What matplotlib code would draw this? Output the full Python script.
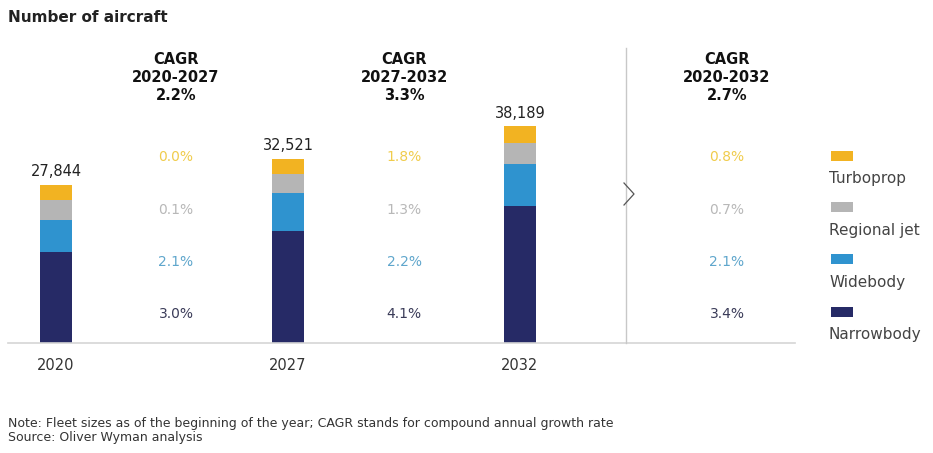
import matplotlib
matplotlib.use("Agg")
import matplotlib.pyplot as plt
from matplotlib.patches import Rectangle
from matplotlib.lines import Line2D

plt.rcParams['font.family'] = ['DejaVu Sans']

# ---------------- data ----------------
years = ["2020", "2027", "2032"]
series = ["Narrowbody", "Widebody", "Regional jet", "Turboprop"]
narrowbody = [15990, 19740, 24130]
widebody = [5760, 6660, 7430]
regional_jet = [3430, 3455, 3690]
turboprop = [2664, 2666, 2939]

cagr_periods = ["2020-2027", "2027-2032", "2020-2032"]
cagr_total = ["2.2%", "3.3%", "2.7%"]
cagr_turboprop = ["0.0%", "1.8%", "0.8%"]
cagr_regional = ["0.1%", "1.3%", "0.7%"]
cagr_widebody = ["2.1%", "2.2%", "2.1%"]
cagr_narrowbody = ["3.0%", "4.1%", "3.4%"]

colors = {"Narrowbody": "#262a66", "Widebody": "#2f93cf",
          "Regional jet": "#b5b5b5", "Turboprop": "#f2b322"}
text_colors = {"Narrowbody": "#3a3b58", "Widebody": "#5fa6cc",
               "Regional jet": "#b8b8b8", "Turboprop": "#f0cc4c"}

W, H = 933, 453
fig = plt.figure(figsize=(W / 100, H / 100), dpi=100)


def fx(px):
    return px / W


def fy(py):
    return 1 - py / H


ax = fig.add_axes([fx(8), fy(343), fx(626) - fx(8), fy(48) - fy(343)])
ax.set_ylim(0, 52000)
ax.set_xlim(-0.207, 2.457)
ax.axis("off")

xs = list(range(len(years)))
bw = 0.134
bottom = [0, 0, 0]
values = {"Narrowbody": narrowbody, "Widebody": widebody,
          "Regional jet": regional_jet, "Turboprop": turboprop}
for s in series:
    ax.bar(xs, values[s], bw, bottom=bottom, color=colors[s], linewidth=0)
    bottom = [b + v for b, v in zip(bottom, values[s])]

for x, tot in zip(xs, bottom):
    ax.annotate(f"{tot:,}", (x, tot), xytext=(0, 4), textcoords="offset points",
                ha="center", va="bottom", fontsize=10.5, color="#222222")

fig.add_artist(Line2D([fx(8), fx(795)], [fy(343), fy(343)], color="#d5d5d5", lw=1.2))
fig.add_artist(Line2D([fx(626), fx(626)], [fy(48), fy(343)], color="#c8c8c8", lw=1.0))
fig.add_artist(Line2D([fx(624), fx(634), fx(624)], [fy(183), fy(194), fy(205)],
                      color="#555555", lw=0.9))

for x, yr in zip(xs, years):
    ax.annotate(yr, (x, 0), xytext=(0, -16), textcoords="offset points",
                ha="center", va="center", fontsize=10.5, color="#333333")

fig.text(fx(8), fy(18), "Number of aircraft", fontsize=11, fontweight="bold",
         color="#222222", ha="left", va="center")

col_x = [176, 404, 727]
row_y = {"Turboprop": 157, "Regional jet": 210, "Widebody": 262, "Narrowbody": 314}
cagr_vals = {"Turboprop": cagr_turboprop, "Regional jet": cagr_regional,
             "Widebody": cagr_widebody, "Narrowbody": cagr_narrowbody}
for i, cx in enumerate(col_x):
    fig.text(fx(cx), fy(60), "CAGR", fontsize=10.5, fontweight="bold",
             ha="center", va="center", color="#111111")
    fig.text(fx(cx), fy(78), cagr_periods[i], fontsize=10.5, fontweight="bold",
             ha="center", va="center", color="#111111")
    fig.text(fx(cx), fy(96), cagr_total[i], fontsize=10.5, fontweight="bold",
             ha="center", va="center", color="#111111")
    for s in series:
        fig.text(fx(cx), fy(row_y[s]), cagr_vals[s][i], fontsize=10,
                 ha="center", va="center", color=text_colors[s])

leg_sq_y = {"Turboprop": 156, "Regional jet": 207, "Widebody": 259, "Narrowbody": 312}
for s in series:
    sy = leg_sq_y[s]
    fig.add_artist(Rectangle((fx(831), fy(sy + 5)), fx(22), fy(0) - fy(10),
                             color=colors[s], linewidth=0))
    fig.text(fx(829), fy(sy + 23), s, fontsize=11, ha="left", va="center",
             color="#444444")

fig.text(fx(8), fy(424), "Note: Fleet sizes as of the beginning of the year; CAGR stands for compound annual growth rate",
         fontsize=9, ha="left", va="center", color="#333333")
fig.text(fx(8), fy(437), "Source: Oliver Wyman analysis",
         fontsize=9, ha="left", va="center", color="#333333")

fig.savefig("out.png", dpi=100, facecolor="white")
